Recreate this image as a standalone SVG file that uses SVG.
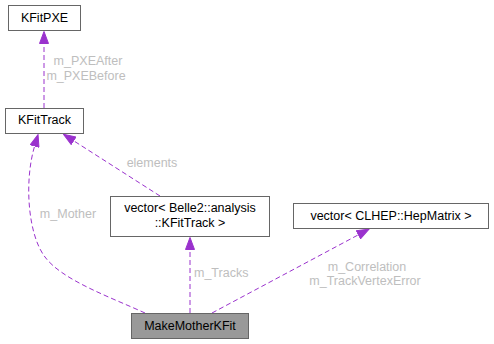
<svg xmlns="http://www.w3.org/2000/svg" width="494" height="344" viewBox="0 0 494 344">
<style>
.node rect{fill:#ffffff;stroke:#666666;stroke-width:1}
.node.hl rect{fill:#999999}
.node text{font-family:"Liberation Sans",Arial,sans-serif;font-size:12.5px;fill:#000000;text-anchor:middle}
.edge path{fill:none;stroke:#9a32cd;stroke-width:1;stroke-dasharray:5,3}
.lbl{font-family:"Liberation Sans",Arial,sans-serif;font-size:12.5px;fill:#bebebe}
</style>
<defs>
<marker id="ah" viewBox="0 0 13 10" refX="0" refY="5" markerWidth="13" markerHeight="10" markerUnits="userSpaceOnUse" orient="auto">
<path d="M0.5,0.5 L12.5,5 L0.5,9.5 z" fill="#9a32cd" stroke="#9a32cd" stroke-width="1"/>
</marker>
</defs>
<g id="edges">
<g class="edge"><path d="M44,108 L44,44" marker-end="url(#ah)"/></g>
<g class="edge"><path d="M145,313 C110,297 62,280 45,257 C28,235 24,182 34.5,146.5" marker-end="url(#ah)"/></g>
<g class="edge"><path d="M160,196 L74,141" marker-end="url(#ah)"/></g>
<g class="edge"><path d="M190,313 L190,250" marker-end="url(#ah)"/></g>
<g class="edge"><path d="M212,313 L358,235" marker-end="url(#ah)"/></g>
<text class="lbl" x="88" y="65" text-anchor="middle">m_PXEAfter</text>
<text class="lbl" x="86" y="80" text-anchor="middle">m_PXEBefore</text>
<text class="lbl" x="152" y="167" text-anchor="middle">elements</text>
<text class="lbl" x="68" y="218" text-anchor="middle">m_Mother</text>
<text class="lbl" x="194" y="277">m_Tracks</text>
<text class="lbl" x="367" y="271" text-anchor="middle">m_Correlation</text>
<text class="lbl" x="365" y="285" text-anchor="middle">m_TrackVertexError</text>
</g>
<g id="KFitPXE" class="node"><rect x="8.5" y="5.5" width="72" height="25"/><text x="44.5" y="21.5">KFitPXE</text></g>
<g id="KFitTrack" class="node"><rect x="5.5" y="108.5" width="78" height="25"/><text x="44.5" y="124">KFitTrack</text></g>
<g id="vectorKFitTrack" class="node"><rect x="110.5" y="196.5" width="159" height="40"/><text x="190" y="212">vector&lt; Belle2::analysis</text><text x="190" y="226.5">::KFitTrack &gt;</text></g>
<g id="vectorHepMatrix" class="node"><rect x="293.5" y="203.5" width="195" height="25"/><text x="391" y="219.5">vector&lt; CLHEP::HepMatrix &gt;</text></g>
<g id="MakeMotherKFit" class="node hl"><rect x="131.5" y="313.5" width="117" height="25"/><text x="190" y="329.5">MakeMotherKFit</text></g>
</svg>
